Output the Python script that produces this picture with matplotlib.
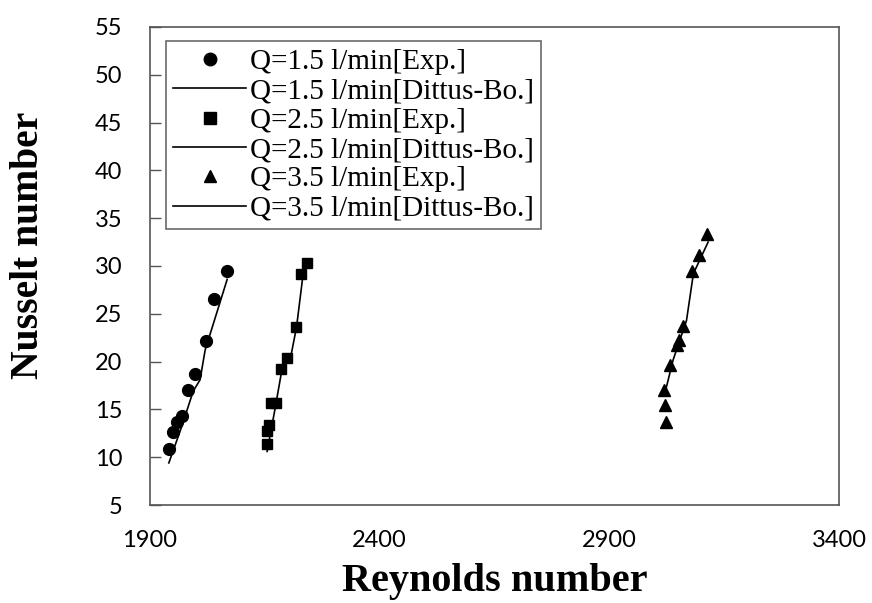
import matplotlib
matplotlib.use("Agg")
import matplotlib.pyplot as plt
from matplotlib.lines import Line2D

# Q = 1.5 l/min
re_exp_15 = [1941, 1951, 1958, 1969, 1983, 1999, 2021, 2039, 2067]
nu_exp_15 = [10.9, 12.6, 13.7, 14.3, 17.0, 18.7, 22.2, 26.5, 29.5]
re_db_15 = [1941, 1969, 1994, 2009, 2020, 2068]
nu_db_15 = [9.4, 13.2, 16.9, 18.1, 21.2, 28.6]

# Q = 2.5 l/min
re_exp_25 = [2154, 2154, 2160, 2163, 2174, 2185, 2198, 2217, 2229, 2242]
nu_exp_25 = [11.4, 12.7, 13.4, 15.7, 15.7, 19.2, 20.4, 23.6, 29.2, 30.3]
re_db_25 = [2155, 2172, 2187, 2208, 2219, 2235]
nu_db_25 = [10.6, 15.0, 19.1, 20.9, 23.6, 29.8]

# Q = 3.5 l/min
re_exp_35 = [3023, 3021, 3019, 3031, 3048, 3052, 3061, 3079, 3096, 3112]
nu_exp_35 = [13.7, 15.5, 17.0, 19.6, 21.7, 22.3, 23.7, 29.5, 31.1, 33.3]
re_db_35 = [3021, 3039, 3068, 3083, 3115]
nu_db_35 = [16.7, 20.2, 24.3, 29.2, 32.5]

labels = ["Q=1.5 l/min[Exp.]", "Q=1.5 l/min[Dittus-Bo.]",
          "Q=2.5 l/min[Exp.]", "Q=2.5 l/min[Dittus-Bo.]",
          "Q=3.5 l/min[Exp.]", "Q=3.5 l/min[Dittus-Bo.]"]
x_ticks = [1900, 2400, 2900, 3400]
y_ticks = [5, 10, 15, 20, 25, 30, 35, 40, 45, 50, 55]

fig = plt.figure(figsize=(8.72, 6.03), dpi=100)
ax = fig.add_axes([150/872, 1-505/603, (839-150)/872, (505-27)/603])

ax.plot(re_db_15, nu_db_15, color="black", lw=1.2, zorder=2)
ax.plot(re_db_25, nu_db_25, color="black", lw=1.2, zorder=2)
ax.plot(re_db_35, nu_db_35, color="black", lw=1.2, zorder=2)
ax.plot(re_exp_15, nu_exp_15, "o", color="black", ms=8.5, ls="none", zorder=3)
ax.plot(re_exp_25, nu_exp_25, "s", color="black", ms=7.5, ls="none", zorder=3)
ax.plot(re_exp_35, nu_exp_35, "^", color="black", ms=9, ls="none", zorder=3)

ax.set_xlim(1900, 3400)
ax.set_ylim(5, 55)
ax.set_xticks(x_ticks)
ax.set_yticks(y_ticks)
tickfont = {"family": "Lato", "size": 17}
ax.set_xticklabels([str(t) for t in x_ticks], fontdict=tickfont)
ax.set_yticklabels([str(t) for t in y_ticks], fontdict=tickfont)
ax.tick_params(axis="y", direction="in", length=8, width=1, color="#555555", pad=20)
ax.tick_params(axis="x", length=0, pad=18)
for s in ax.spines.values():
    s.set_color("#555555")
    s.set_linewidth(1.2)

ax.set_xlabel("Reynolds number", fontfamily="Liberation Serif", fontweight="bold",
              fontsize=29)
ax.xaxis.set_label_coords(0.5, -(600 - 505) / 478, transform=ax.transAxes)
ax.xaxis.label.set_va("bottom")
ax.set_ylabel("Nusselt number", fontfamily="Liberation Serif", fontweight="bold",
              fontsize=28.5)
ax.yaxis.set_label_coords((47 - 150) / 689, (505 - 245) / 478)

handles = [
    Line2D([], [], marker="o", color="black", ls="none", ms=9),
    Line2D([], [], color="black", lw=1.2),
    Line2D([], [], marker="s", color="black", ls="none", ms=8),
    Line2D([], [], color="black", lw=1.2),
    Line2D([], [], marker="^", color="black", ls="none", ms=9),
    Line2D([], [], color="black", lw=1.2),
]
leg = ax.legend(handles, labels, loc="upper left", bbox_to_anchor=(0.023, 0.97),
                prop={"family": "Liberation Serif", "size": 21},
                frameon=True, fancybox=False, edgecolor="#444444",
                handlelength=2.5, handletextpad=0.12, labelspacing=0.1,
                borderpad=0.25, borderaxespad=0.0, numpoints=1)
leg.get_frame().set_linewidth(1.2)

fig.savefig("out.png", dpi=100)
